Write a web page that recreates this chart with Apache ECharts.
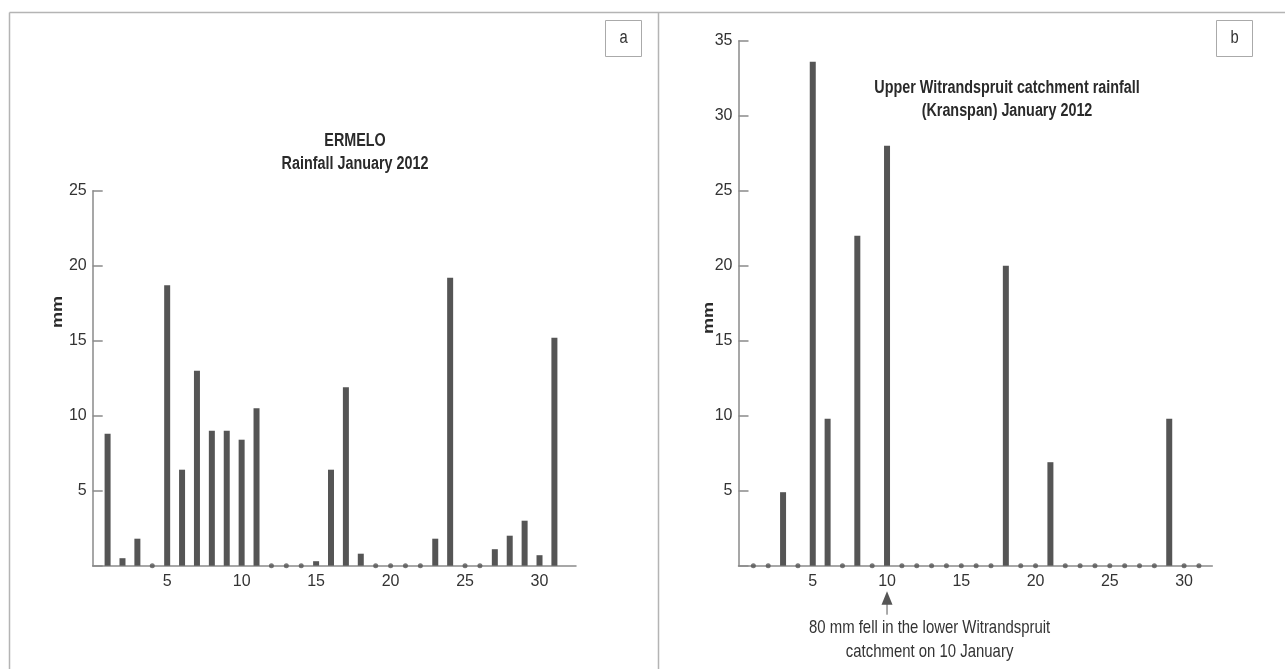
<!DOCTYPE html>
<html>
<head>
<meta charset="utf-8">
<script src="https://cdn.jsdelivr.net/npm/echarts@6/dist/echarts.min.js"></script>
<style>
html,body{margin:0;padding:0;background:#fff;}
#c{width:1285px;height:669px;}
</style>
</head>
<body>
<div id="c"></div>
<script>
// ---- data ----
const days = [1,2,3,4,5,6,7,8,9,10,11,12,13,14,15,16,17,18,19,20,21,22,23,24,25,26,27,28,29,30,31];
const ermeloRain = [8.8,0.5,1.8,0,18.7,6.4,13.0,9.0,9.0,8.4,10.5,0,0,0,0.3,6.4,11.9,0.8,0,0,0,0,1.8,19.2,0,0,1.1,2.0,3.0,0.7,15.2];
const kranspanRain = [0,0,4.9,0,33.6,9.8,0,22.0,0,28.0,0,0,0,0,0,0,0,20.0,0,0,6.9,0,0,0,0,0,0,0,9.8,0,0];
const xTicks = [5,10,15,20,25,30];
const yTicksA = [5,10,15,20,25];
const yTicksB = [5,10,15,20,25,30,35];
const titleA = ['ERMELO','Rainfall January 2012'];
const titleB = ['Upper Witrandspruit catchment rainfall','(Kranspan) January 2012'];
const noteB = ['80 mm fell in the lower Witrandspruit','catchment on 10 January'];
const noteDay = 10;

const FONT = '"Liberation Sans","Arial",sans-serif';
const NARROW = 0.82;
const BAR = '#555555';
const AXIS = '#8a8a8a';
const FRAME = '#b4b4b4';

const barData = arr => days.map((d,i)=>[d,arr[i]]).filter(p=>p[1]>0);
const dotData = arr => days.map((d,i)=>[d,arr[i]]).filter(p=>p[1]===0);

function xAxis(idx, max){
  return {
    type:'value', gridIndex: idx, min:0, max:max, interval:5,
    axisLine:{show:true, lineStyle:{color:AXIS, width:1.5}},
    axisTick:{show:false}, splitLine:{show:false},
    axisLabel:{color:'#333', fontFamily:FONT, fontSize:16, margin:8,
      formatter: v => xTicks.indexOf(v)>=0 ? String(v) : ''}
  };
}
function yAxis(idx, max, ticks){
  return {
    type:'value', gridIndex: idx, min:0, max:max, interval:5,
    axisLine:{show:true, lineStyle:{color:AXIS, width:1.5}},
    axisTick:{show:true, inside:true, length:10, lineStyle:{color:AXIS, width:1.5}},
    splitLine:{show:false},
    axisLabel:{color:'#333', fontFamily:FONT, fontSize:16, margin:6,
      formatter: v => ticks.indexOf(v)>=0 ? String(v) : ''}
  };
}

const chart = echarts.init(document.getElementById('c'), null, {renderer:'canvas'});
chart.setOption({
  animation:false,
  backgroundColor:'#fff',
  grid:[
    {left:92.7, right:709, top:190.7, bottom:103.3},
    {left:738.5, right:72.7, top:40.7, bottom:103.3}
  ],
  xAxis:[xAxis(0, 32.45), xAxis(1, 31.9)],
  yAxis:[yAxis(0, 25, yTicksA), yAxis(1, 35, yTicksB)],
  series:[
    {type:'bar', xAxisIndex:0, yAxisIndex:0, data:barData(ermeloRain), barWidth:6, itemStyle:{color:BAR}},
    {type:'scatter', xAxisIndex:0, yAxisIndex:0, data:dotData(ermeloRain), symbolSize:5, itemStyle:{color:BAR}, z:3},
    {type:'bar', xAxisIndex:1, yAxisIndex:1, data:barData(kranspanRain), barWidth:6, itemStyle:{color:BAR}},
    {type:'scatter', xAxisIndex:1, yAxisIndex:1, data:dotData(kranspanRain), symbolSize:5, itemStyle:{color:BAR}, z:3}
  ]
});

function narrowText(str, x, y, opts){
  opts = opts || {};
  return {type:'text', x:x, y:y, scaleX: opts.rot ? 1 : NARROW, scaleY: opts.rot ? NARROW : 1,
    rotation: opts.rot || 0,
    style:{text:str, fontFamily:FONT, fontWeight:opts.bold?'bold':'normal', fontSize:opts.size||17,
      fill:opts.color||'#333', align:'center', verticalAlign:'middle'}, silent:true};
}

// annotation arrow located from the axis scale
const ax = chart.convertToPixel({xAxisIndex:1}, noteDay);
const y0 = chart.convertToPixel({yAxisIndex:1}, 0);
chart.setOption({
  graphic:[
    {type:'line', shape:{x1:9.5,y1:12.5,x2:1285,y2:12.5}, style:{stroke:FRAME, lineWidth:1.5}, silent:true},
    {type:'line', shape:{x1:9.5,y1:12.5,x2:9.5,y2:669}, style:{stroke:FRAME, lineWidth:1.5}, silent:true},
    {type:'line', shape:{x1:658.5,y1:12.5,x2:658.5,y2:669}, style:{stroke:FRAME, lineWidth:1.5}, silent:true},
    {type:'rect', shape:{x:605.5,y:20.5,width:36,height:36}, style:{fill:'#fff', stroke:'#aaaaaa', lineWidth:1}, silent:true},
    narrowText('a', 623.5, 38.5, {size:18}),
    {type:'rect', shape:{x:1216.5,y:20.5,width:36,height:36}, style:{fill:'#fff', stroke:'#aaaaaa', lineWidth:1}, silent:true},
    narrowText('b', 1234.5, 38.5, {size:18}),
    narrowText(titleA[0], 355, 141, {bold:true, size:17.5, color:'#2a2a2a'}),
    narrowText(titleA[1], 355, 164, {bold:true, size:17.5, color:'#2a2a2a'}),
    narrowText(titleB[0], 1007, 88, {bold:true, size:17.5, color:'#2a2a2a'}),
    narrowText(titleB[1], 1007, 111, {bold:true, size:17.5, color:'#2a2a2a'}),
    narrowText('mm', 58, 312, {bold:true, size:18, color:'#2a2a2a', rot:Math.PI/2}),
    narrowText('mm', 709, 318, {bold:true, size:18, color:'#2a2a2a', rot:Math.PI/2}),
    {type:'polygon', shape:{points:[[ax, y0+25.5],[ax-5.5, y0+39],[ax+5.5, y0+39]]}, style:{fill:BAR}, silent:true},
    {type:'line', shape:{x1:ax, y1:y0+38, x2:ax, y2:y0+49}, style:{stroke:BAR, lineWidth:1}, silent:true},
    narrowText(noteB[0], 929.6, 628, {size:18.2}),
    narrowText(noteB[1], 929.6, 652, {size:18.2})
  ]
});
</script>
</body>
</html>
